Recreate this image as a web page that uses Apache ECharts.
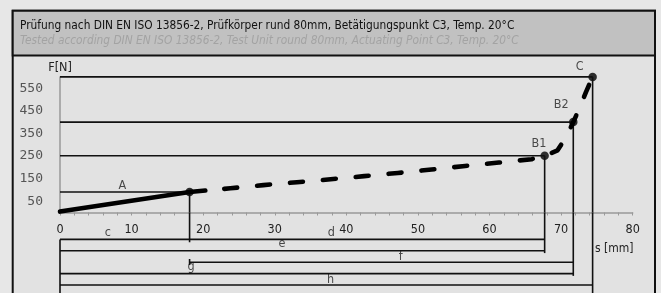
<!DOCTYPE html>
<html><head><meta charset="utf-8">
<script src="https://cdn.jsdelivr.net/npm/echarts@6/dist/echarts.min.js"></script>
<style>html,body{margin:0;padding:0;background:#e7e7e7;}#c{width:661px;height:293px;}</style>
</head><body><div id="c"></div>
<script>
const titleDE = 'Prüfung nach DIN EN ISO 13856-2, Prüfkörper rund 80mm, Betätigungspunkt C3, Temp. 20°C';
const titleEN = 'Tested according DIN EN ISO 13856-2, Test Unit round 80mm, Actuating Point C3, Temp. 20°C';
const xAxisName = 's [mm]';
const yAxisName = 'F[N]';
const yTickLabels = [50, 150, 250, 350, 450, 550];

// key points
const pointNames = ['A', 'B1', 'B2', 'C'];
const pointS = [18.1, 67.7, 71.7, 74.4];
const pointF = [91, 251, 400, 600];
const labelS = [8.7, 66.9, 70.0, 72.6];
const labelF = [117, 305, 476, 645];

// force-travel curve
const solidS = [0, 18.1, 20.3];
const solidF = [4, 91, 97];
const dashS = [20.3, 23.8, 28.4, 33.1, 37.8, 42.5, 47.2, 51.9, 56.6, 61.3, 65.9, 67.7, 69.5, 70.6, 71.7, 72.6, 73.5, 74.4];
const dashF = [97, 107, 121, 134, 147, 161, 175, 190, 206, 221, 236, 251, 275, 330, 400, 464, 535, 600];

// dimension lines below the axis (row = level below axis)
const dimNames = ['c', 'd', 'e', 'f', 'g', 'h'];
const dimStartS = [0, 18.1, 0, 18.1, 0, 0];
const dimEndS = [18.1, 67.7, 67.7, 71.7, 71.7, 74.4];
const dimRow = [1, 1, 2, 3, 4, 5];
const dimLabelS = [6.7, 37.9, 31.0, 47.6, 18.3, 37.8];
const dimLabelRow = [0.44, 0.44, 1.4, 2.5, 3.42, 4.5];
const extEndRow = [1.25, 2.2, 4.2, 5.7]; // extension lines of A, B1, B2, C

const ROW_MIN = -1.36, ROW_MAX = 5.7;
const FONT = "'Liberation Sans Narrow','DejaVu Sans Condensed','Roboto Condensed',sans-serif";
const MONO = "'DejaVu Sans Mono',monospace";

const series = [];
function seg(gi, pts, width, extra) {
  series.push(Object.assign({
    type: 'line', xAxisIndex: gi, yAxisIndex: gi, data: pts, showSymbol: false, symbol: 'none',
    silent: true, animation: false, clip: false,
    lineStyle: { color: '#111', width: width }
  }, extra || {}));
}
// horizontal reference lines and verticals in the plot
pointS.forEach((s, i) => {
  seg(0, [[0, pointF[i]], [s, pointF[i]]], 1.6);
  seg(0, [[s, pointF[i]], [s, 0]], 1.6);
  seg(1, [[s, ROW_MIN], [s, extEndRow[i]]], 1.6);
});
// left extension line and small tick at A on row 3
seg(1, [[0, dimRow[0]], [0, ROW_MAX]], 1.6);
seg(1, [[dimStartS[3], dimRow[3] - 0.28], [dimStartS[3], dimRow[3] + 0.25]], 1.6);
// dimension lines
dimNames.forEach((n, i) => {
  seg(1, [[dimStartS[i], dimRow[i]], [dimEndS[i], dimRow[i]]], 1.6);
});
// curve
seg(0, solidS.map((s, i) => [s, solidF[i]]), 4.5, { lineStyle: { color: '#000', width: 4.6, cap: 'round' } });
seg(0, dashS.map((s, i) => [s, dashF[i]]), 4.5, {
  lineStyle: { color: '#000', width: 4.6, type: [13, 20], dashOffset: 14, cap: 'round', join: 'round' }
});
// points
series.push({
  type: 'scatter', xAxisIndex: 0, yAxisIndex: 0, silent: true, animation: false, clip: false,
  symbolSize: 8.5, itemStyle: { color: '#000' },
  data: pointS.map((s, i) => [s, pointF[i]])
});
// point labels
series.push({
  type: 'scatter', xAxisIndex: 0, yAxisIndex: 0, silent: true, animation: false, clip: false,
  symbolSize: 1, itemStyle: { color: 'rgba(0,0,0,0)' },
  label: { show: true, position: 'inside', formatter: p => p.name, color: '#222', fontSize: 12.5, fontFamily: FONT },
  data: pointNames.map((n, i) => ({ name: n, value: [labelS[i], labelF[i]] }))
});
// dimension labels
series.push({
  type: 'scatter', xAxisIndex: 1, yAxisIndex: 1, silent: true, animation: false, clip: false,
  symbolSize: 1, itemStyle: { color: 'rgba(0,0,0,0)' },
  label: { show: true, position: 'inside', formatter: p => p.name, color: '#222', fontSize: 12.5, fontFamily: FONT },
  data: dimNames.map((n, i) => ({ name: n, value: [dimLabelS[i], dimLabelRow[i]] }))
});

const chart = echarts.init(document.getElementById('c'), null, { renderer: 'canvas' });
chart.setOption({
  backgroundColor: 'transparent',
  animation: false,
  graphic: [
    { type: 'rect', z: -10, shape: { x: 12.7, y: 10.7, width: 642.3, height: 300 }, style: { fill: '#e2e2e2', stroke: '#111', lineWidth: 2 } },
    { type: 'rect', z: -9, shape: { x: 12.7, y: 10.7, width: 642.3, height: 44.8 }, style: { fill: '#c1c1c1', stroke: '#111', lineWidth: 2 } },
    { type: 'text', z: -8, style: { text: titleDE, x: 20, y: 25.5, verticalAlign: 'middle', fill: '#111', font: '11.8px ' + FONT } },
    { type: 'text', z: -8, style: { text: titleEN, x: 20, y: 40.5, verticalAlign: 'middle', fill: '#a3a3a3', font: 'italic 11.8px ' + FONT } },
    { type: 'text', z: 5, style: { text: xAxisName, x: 595, y: 248.5, verticalAlign: 'middle', fill: '#222', font: '12px ' + FONT } }
  ],
  grid: [
    { left: 60, right: 28.3, top: 76.9, bottom: 80.5 },
    { left: 60, right: 28.3, top: 212.5, bottom: 0 }
  ],
  xAxis: [
    {
      gridIndex: 0, type: 'value', min: 0, max: 80, interval: 10,
      axisLine: { onZero: false, lineStyle: { color: '#999', width: 1.5 } },
      axisTick: { show: true, length: 3, lineStyle: { color: '#999' } },
      minorTick: { show: true, splitNumber: 5, length: 3, lineStyle: { color: '#999' } },
      splitLine: { show: false },
      axisLabel: { margin: 11, color: '#222', fontSize: 12.5, fontFamily: FONT }
    },
    { gridIndex: 1, type: 'value', min: 0, max: 80, show: false }
  ],
  yAxis: [
    {
      gridIndex: 0, type: 'value', min: 0, max: 600, interval: 50,
      name: yAxisName, nameLocation: 'end', nameGap: 3,
      nameTextStyle: { color: '#222', fontSize: 12.5, fontFamily: FONT, align: 'center' },
      axisLine: { show: true, lineStyle: { color: '#999', width: 1.5 } },
      axisTick: { show: false },
      splitLine: { show: false },
      axisLabel: {
        margin: 17, color: '#555', fontSize: 13, fontFamily: MONO,
        formatter: v => (yTickLabels.indexOf(v) >= 0 ? String(v) : '')
      }
    },
    { gridIndex: 1, type: 'value', min: ROW_MIN, max: ROW_MAX, inverse: true, show: false }
  ],
  series: series
});
</script></body></html>
